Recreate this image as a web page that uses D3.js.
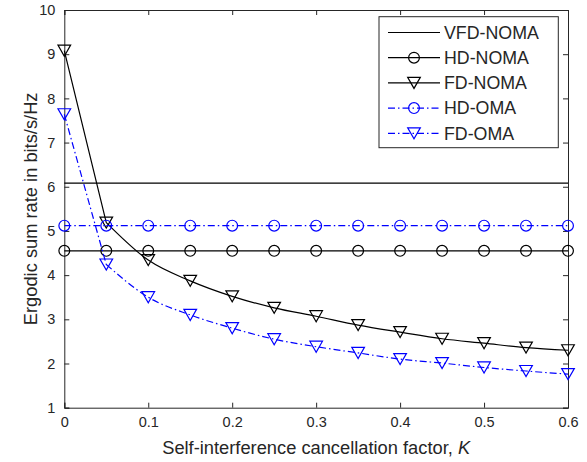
<!DOCTYPE html>
<html><head><meta charset="utf-8">
<script src="https://cdn.jsdelivr.net/npm/d3@7"></script>
<style>body{margin:0;background:#fff}svg{display:block}text{font-family:"Liberation Sans",Arial,sans-serif;fill:#262626}</style>
</head><body><svg id="c" width="587" height="462"></svg>
<script>
const kValues = [0,0.05,0.1,0.15,0.2,0.25,0.3,0.35,0.4,0.45,0.5,0.55,0.6];
const vfdNoma = [6.08,6.08,6.08,6.08,6.08,6.08,6.08,6.08,6.08,6.08,6.08,6.08,6.08];
const hdNoma = [4.55,4.55,4.55,4.55,4.55,4.55,4.55,4.55,4.55,4.55,4.55,4.55,4.55];
const fdNoma = [9.08,5.19,4.34,3.87,3.52,3.26,3.07,2.87,2.71,2.56,2.46,2.36,2.30];
const hdOma = [5.12,5.12,5.12,5.12,5.12,5.12,5.12,5.12,5.12,5.12,5.12,5.12,5.12];
const fdOma = [7.64,4.24,3.50,3.10,2.80,2.55,2.38,2.24,2.10,2.01,1.91,1.83,1.76];
const xTicks = [0,0.1,0.2,0.3,0.4,0.5,0.6];
const yTicks = [1,2,3,4,5,6,7,8,9,10];
const seriesNames = ["VFD-NOMA","HD-NOMA","FD-NOMA","HD-OMA","FD-OMA"];

const series = [
  {name:seriesNames[0], vals:vfdNoma, color:"#000", dash:null, marker:null},
  {name:seriesNames[1], vals:hdNoma, color:"#000", dash:null, marker:"circle"},
  {name:seriesNames[2], vals:fdNoma, color:"#000", dash:null, marker:"tri"},
  {name:seriesNames[3], vals:hdOma, color:"#0000ff", dash:"7,3,1.5,3", marker:"circle"},
  {name:seriesNames[4], vals:fdOma, color:"#0000ff", dash:"7,3,1.5,3", marker:"tri"}
];

const L=64.3, R=568, T=10, B=407.7;
const svg = d3.select("#c");
const x = d3.scaleLinear().domain([0,0.6]).range([L,R]);
const y = d3.scaleLinear().domain([1,10]).range([B,T]);
const axisColor = "#262626";

// axes
const gx = svg.append("g").attr("transform",`translate(0,${B})`)
  .call(d3.axisBottom(x).tickValues(xTicks).tickSize(-5).tickPadding(9).tickFormat(d=>d===0?"0":d3.format(".1f")(d)));
const gxt = svg.append("g").attr("transform",`translate(0,${T})`)
  .call(d3.axisTop(x).tickValues(xTicks).tickSize(-5).tickFormat(""));
const gy = svg.append("g").attr("transform",`translate(${L},0)`)
  .call(d3.axisLeft(y).tickValues(yTicks).tickSize(-5).tickPadding(9).tickFormat(d3.format("d")));
const gyr = svg.append("g").attr("transform",`translate(${R},0)`)
  .call(d3.axisRight(y).tickValues(yTicks).tickSize(-5).tickFormat(""));
[gx,gxt,gy,gyr].forEach(g=>{
  g.selectAll("path.domain").attr("stroke",axisColor).attr("stroke-width",1);
  g.selectAll(".tick line").attr("stroke",axisColor).attr("stroke-width",1);
  g.selectAll(".tick text").attr("font-size",14.5).attr("font-family","Liberation Sans, Arial, sans-serif").attr("fill",axisColor);
});

const pts = vals => vals.map((v,i)=>[x(kValues[i]), y(v)]);
const smooth = d3.line().curve(d3.curveMonotoneX);
const straight = d3.line();
// first segment straight, remainder smooth
const pathFor = vals => { const p = pts(vals); return straight(p.slice(0,2)) + smooth(p.slice(1)); };
const tri = (cx,cy,s)=>`M${cx-s*0.55},${cy-s*0.48}L${cx+s*0.55},${cy-s*0.48}L${cx},${cy+s*0.48}Z`;

function drawMarker(g,type,cx,cy,color){
  if(type==="circle") g.append("circle").attr("cx",cx).attr("cy",cy).attr("r",5.4).attr("fill","none").attr("stroke",color).attr("stroke-width",1.2);
  else if(type==="tri") g.append("path").attr("d",tri(cx,cy,11.5)).attr("fill","none").attr("stroke",color).attr("stroke-width",1.2);
}

const plot = svg.append("g");
series.forEach(s=>{
  plot.append("path").attr("d",pathFor(s.vals)).attr("fill","none")
    .attr("stroke",s.color).attr("stroke-width",1.2).attr("stroke-dasharray",s.dash);
  if(s.marker){
    s.vals.forEach((v,i)=>drawMarker(plot,s.marker,x(kValues[i]),y(v),s.color));
  }
});

// axis labels
const xl = svg.append("text").attr("x",(L+R)/2).attr("y",454).attr("text-anchor","middle").attr("font-size",18.3);
xl.append("tspan").text("Self-interference cancellation factor, ");
xl.append("tspan").attr("font-style","italic").text("K");
svg.append("text").attr("transform",`translate(36.5,${(T+B)/2}) rotate(-90)`).attr("text-anchor","middle")
  .attr("font-size",18.3).text("Ergodic sum rate in bits/s/Hz");

// legend
const lg = svg.append("g");
lg.append("rect").attr("x",379).attr("y",16.7).attr("width",179.3).attr("height",131).attr("fill","#fff").attr("stroke",axisColor).attr("stroke-width",1);
series.forEach((s,i)=>{
  const cy = 32.5 + i*25.2;
  lg.append("line").attr("x1",388).attr("x2",440).attr("y1",cy).attr("y2",cy)
    .attr("stroke",s.color).attr("stroke-width",1.2).attr("stroke-dasharray",s.dash);
  if(s.marker) drawMarker(lg,s.marker,414,cy,s.color);
  lg.append("text").attr("x",444).attr("y",cy+6.3).attr("font-size",17.8).text(s.name);
});
</script></body></html>
